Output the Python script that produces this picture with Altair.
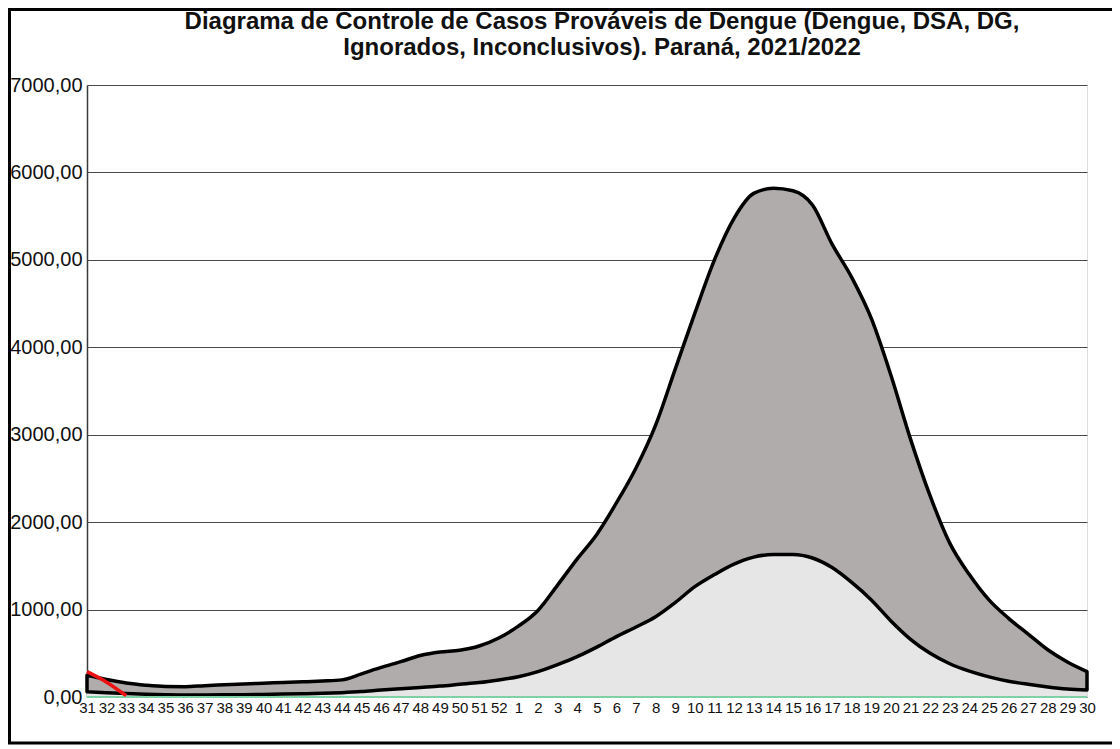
import altair as alt
import pandas as pd

# Epidemiological weeks (2021 weeks 31-52, then 2022 weeks 1-30)
weeks = [str(w) for w in list(range(31, 53)) + list(range(1, 31))]

# Upper limit of the control channel
upper = [250, 200, 160, 135, 120, 118, 130, 140, 150, 158, 166, 174, 183, 196,
         265, 338, 404, 475, 515, 535, 583, 675,
         810, 990, 1280, 1580, 1860, 2220, 2620, 3110, 3750, 4390,
         5000, 5475, 5760, 5818, 5790, 5627, 5180, 4800, 4330, 3680,
         2950, 2300, 1760, 1400, 1110, 900, 720, 540, 400, 290]

# Median / lower curve
lower = [60, 50, 40, 32, 27, 24, 24, 25, 27, 30, 33, 37, 42, 50,
         62, 80, 95, 110, 125, 145, 165, 195,
         232, 290, 370, 461, 570, 690, 800, 918, 1080, 1262,
         1400, 1520, 1600, 1630, 1630, 1590, 1480, 1310, 1110, 870,
         660, 500, 380, 295, 230, 180, 145, 115, 92, 80]

# Lower limit line (zero)
zero_line = [0] * len(weeks)

# Probable cases 2021/2022 (red)
case_weeks = ["31", "32", "33"]
cases = [290, 170, 15]

df = pd.DataFrame({"week": weeks, "upper": upper, "lower": lower, "zero": zero_line})
df_cases = pd.DataFrame({"week": case_weeks, "cases": cases})

W, H = 1000, 612

x_enc = alt.X(
    "week:N", sort=weeks,
    scale=alt.Scale(type="point", padding=0, domain=weeks),
    axis=alt.Axis(title=None, labelAngle=0, ticks=False, domain=False,
                  labelFont="Liberation Sans", labelFontSize=15, labelColor="#111111",
                  labelPadding=3, labelOverlap=False, grid=False),
)
y_scale = alt.Scale(domain=[0, 7000], nice=False, zero=True)

base = alt.Chart(df)

light = base.mark_area(color="#e6e6e6", interpolate="monotone").encode(
    x=x_enc,
    y=alt.Y("lower:Q", scale=y_scale,
            axis=alt.Axis(title=None, values=list(range(0, 7001, 1000)),
                          labelExpr="replace(format(datum.value, '.2f'), '.', ',')",
                          grid=True, gridColor="#4a4a4a", gridWidth=1,
                          domainColor="#3a3a3a", domainWidth=1.5, ticks=False,
                          labelFont="Liberation Sans", labelFontSize=20,
                          labelColor="#111111", labelPadding=5)),
)

band = base.mark_area(fill="#b0acac", stroke="black", strokeWidth=3.5,
                      strokeJoin="round", interpolate="monotone").encode(
    x=alt.X("week:N", sort=weeks),
    y=alt.Y("upper:Q", scale=y_scale),
    y2="lower:Q",
)

green = base.mark_line(color="#7fd0a4", strokeWidth=2).encode(
    x=alt.X("week:N", sort=weeks),
    y=alt.Y("zero:Q", scale=y_scale),
)

red = alt.Chart(df_cases).mark_line(color="#ee1111", strokeWidth=3.5,
                                     interpolate="monotone").encode(
    x=alt.X("week:N", sort=weeks),
    y=alt.Y("cases:Q", scale=y_scale),
)

frame = alt.Chart(pd.DataFrame({"a": [0]})).mark_rect(
    fill=None, stroke="black", strokeWidth=3
).encode(
    x=alt.value(-77.5), x2=alt.value(1028), y=alt.value(-75.5), y2=alt.value(658)
)

chart = alt.layer(light, band, green, red, frame).properties(
    width=W, height=H,
    padding={"left": 79, "top": 77, "right": 25, "bottom": 52},
    autosize=alt.AutoSizeParams(type="none"),
    title=alt.TitleParams(
        text=["Diagrama de Controle de Casos Prováveis de Dengue (Dengue, DSA, DG,",
              "Ignorados, Inconclusivos). Paraná, 2021/2022"],
        font="Liberation Sans", fontSize=24, fontWeight="bold", color="#111111",
        anchor="middle", frame="group", dx=15, dy=52, offset=0, lineHeight=26,
    ),
).configure_view(stroke="#aaaaaa", strokeWidth=1).configure(background="white")

chart.save("out.html", embed_options={"renderer": "svg", "actions": False})
